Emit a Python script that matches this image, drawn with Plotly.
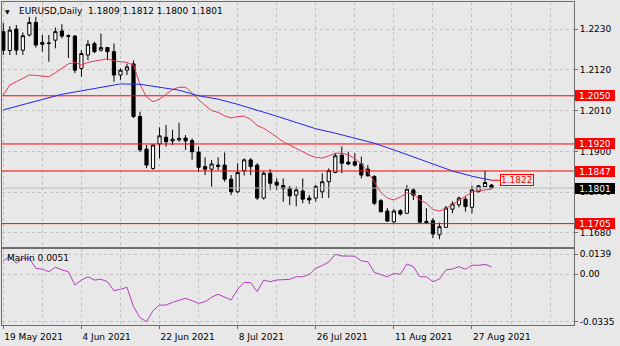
import plotly.graph_objects as go

# --- EURUSD daily bars (19 May 2021 .. 1 Sep 2021) ---
opens = [1.2223, 1.2172, 1.2230, 1.2173, 1.2214, 1.2248, 1.2194, 1.2191, 1.2200, 1.2225,
         1.2212, 1.2211, 1.2124, 1.2160, 1.2191, 1.2173, 1.2180, 1.2169, 1.2106, 1.2119,
         1.2136, 1.1994, 1.1906, 1.1854, 1.1920, 1.1938, 1.1928, 1.1931, 1.1936, 1.1929,
         1.1898, 1.1859, 1.1852, 1.1859, 1.1863, 1.1825, 1.1791, 1.1848, 1.1877, 1.1863,
         1.1774, 1.1841, 1.1817, 1.1808, 1.1801, 1.1782, 1.1793, 1.1774, 1.1774, 1.1791,
         1.1818, 1.1843, 1.1890, 1.1871, 1.1872, 1.1866, 1.1852, 1.1832, 1.1767, 1.1739,
         1.1710, 1.1740, 1.1733, 1.1796, 1.1781, 1.1711, 1.1713, 1.1675, 1.1695, 1.1744,
         1.1756, 1.1771, 1.1749, 1.1791, 1.1805, 1.1809]
highs = [1.2246, 1.2238, 1.2241, 1.2221, 1.2263, 1.2263, 1.2214, 1.2214, 1.2234, 1.2243,
         1.2216, 1.2214, 1.2173, 1.2200, 1.2196, 1.2218, 1.2182, 1.2191, 1.2124, 1.2137,
         1.2145, 1.2007, 1.1917, 1.1919, 1.1965, 1.1971, 1.1958, 1.1977, 1.1944, 1.1935,
         1.1913, 1.1884, 1.1877, 1.1884, 1.1897, 1.1836, 1.1868, 1.1881, 1.1882, 1.1868,
         1.1846, 1.1852, 1.1827, 1.1827, 1.1807, 1.1805, 1.1827, 1.1782, 1.1809, 1.1841,
         1.1854, 1.1895, 1.1913, 1.1899, 1.1895, 1.1886, 1.1863, 1.1836, 1.1771, 1.1747,
         1.1744, 1.1744, 1.1809, 1.1801, 1.1782, 1.1747, 1.1720, 1.1708, 1.1753, 1.1765,
         1.1778, 1.1778, 1.1807, 1.1809, 1.1848, 1.1812]
lows = [1.2160, 1.2160, 1.2160, 1.2160, 1.2210, 1.2180, 1.2169, 1.2142, 1.2178, 1.2205,
        1.2152, 1.2111, 1.2101, 1.2146, 1.2165, 1.2169, 1.2146, 1.2088, 1.2093, 1.2106,
        1.1990, 1.1898, 1.1855, 1.1850, 1.1881, 1.1913, 1.1917, 1.1926, 1.1904, 1.1877,
        1.1845, 1.1836, 1.1805, 1.1850, 1.1818, 1.1782, 1.1787, 1.1835, 1.1836, 1.1769,
        1.1770, 1.1796, 1.1796, 1.1764, 1.1755, 1.1752, 1.1760, 1.1758, 1.1765, 1.1774,
        1.1774, 1.1841, 1.1841, 1.1863, 1.1859, 1.1827, 1.1832, 1.1755, 1.1736, 1.1710,
        1.1706, 1.1727, 1.1731, 1.1769, 1.1708, 1.1704, 1.1666, 1.1663, 1.1695, 1.1733,
        1.1749, 1.1737, 1.1733, 1.1790, 1.1803, 1.1800]
closes = [1.2173, 1.2227, 1.2173, 1.2212, 1.2248, 1.2187, 1.2189, 1.2192, 1.2223, 1.2211,
          1.2210, 1.2119, 1.2164, 1.2189, 1.2169, 1.2180, 1.2169, 1.2106, 1.2119, 1.2128,
          1.1994, 1.1904, 1.1863, 1.1917, 1.1942, 1.1926, 1.1933, 1.1935, 1.1928, 1.1899,
          1.1857, 1.1852, 1.1866, 1.1863, 1.1825, 1.1791, 1.1843, 1.1877, 1.1859, 1.1774,
          1.1841, 1.1814, 1.1809, 1.1799, 1.1780, 1.1796, 1.1771, 1.1769, 1.1805, 1.1818,
          1.1848, 1.1888, 1.1868, 1.1866, 1.1863, 1.1836, 1.1834, 1.1760, 1.1737, 1.1712,
          1.1739, 1.1731, 1.1798, 1.1782, 1.1709, 1.1708, 1.1677, 1.1697, 1.1747, 1.1758,
          1.1774, 1.1751, 1.1796, 1.1807, 1.1816, 1.1801]

# fast moving average (red), one value per bar
red_ma = [1.2052, 1.2079, 1.2088, 1.2097, 1.2106, 1.2105, 1.2103, 1.2101, 1.2112, 1.2124,
          1.2136, 1.2140, 1.2133, 1.2140, 1.2144, 1.2148, 1.2150, 1.2144, 1.2141, 1.2140,
          1.2133, 1.2080, 1.2047, 1.2034, 1.2041, 1.2055, 1.2067, 1.2073, 1.2073, 1.2058,
          1.2039, 1.2024, 1.2010, 1.2005, 1.1996, 1.1990, 1.1994, 1.1995, 1.1986, 1.1970,
          1.1962, 1.1951, 1.1939, 1.1926, 1.1917, 1.1908, 1.1899, 1.1890, 1.1884, 1.1882,
          1.1888, 1.1895, 1.1895, 1.1891, 1.1880, 1.1866, 1.1845, 1.1815, 1.1789, 1.1774,
          1.1769, 1.1777, 1.1788, 1.1785, 1.1769, 1.1760, 1.1743, 1.1739, 1.1746, 1.1757,
          1.1768, 1.1779, 1.1790, 1.1794, 1.1797, 1.1798]

# slow moving average (blue), sampled every third bar
blue_ma_bars = [0, 3, 6, 9, 12, 15, 18, 21, 24, 27, 30, 33, 36, 39, 42, 45, 48, 51, 54,
                57, 60, 63, 66, 69, 72, 75]
blue_ma = [1.2012, 1.2027, 1.2040, 1.2054, 1.2064, 1.2074, 1.2082, 1.2081, 1.2074, 1.2065,
           1.2050, 1.2041, 1.2027, 1.2012, 1.1995, 1.1978, 1.1961, 1.1949, 1.1936,
           1.1922, 1.1904, 1.1885, 1.1866, 1.1847, 1.1833, 1.1822]

# Marlin oscillator
marlin = [0.0094, 0.0122, 0.0076, 0.0111, 0.0111, 0.0041, 0.0034, 0.0017, 0.0048, 0.0029,
          0.0017, -0.0077, -0.0042, -0.0019, -0.0042, -0.0037, -0.0054, -0.0117, -0.0107, -0.0093,
          -0.0229, -0.0307, -0.0335, -0.0258, -0.0218, -0.0218, -0.0199, -0.0182, -0.0170, -0.0187,
          -0.0206, -0.0194, -0.0163, -0.0142, -0.0163, -0.0182, -0.0107, -0.0058, -0.0060, -0.0124,
          -0.0042, -0.0054, -0.0042, -0.0037, -0.0037, -0.0019, -0.0019, -0.0002, 0.0041, 0.0060,
          0.0085, 0.0139, 0.0127, 0.0127, 0.0125, 0.0092, 0.0087, 0.0012, -0.0005, -0.0019,
          0.0005, -0.0002, 0.0071, 0.0052, -0.0019, -0.0019, -0.0054, -0.0035, 0.0029, 0.0036,
          0.0052, 0.0034, 0.0062, 0.0062, 0.0068, 0.0051]

# horizontal support / resistance levels
levels = [1.2050, 1.1920, 1.1847, 1.1705]

# axis labels
date_labels = ["19 May 2021", "4 Jun 2021", "22 Jun 2021", "8 Jul 2021",
               "26 Jul 2021", "11 Aug 2021", "27 Aug 2021"]
label_step = 12
grid_step = 6
price_ticks = [1.2230, 1.2120, 1.2010, 1.1900, 1.1790, 1.1680]
marlin_ticks = [0.0139, 0.0, -0.0335]
marlin_tick_text = ["0.0139", "0.00", "-0.0335"]
symbol = "EURUSD"
timeframe = "Daily"

FONT = "DejaVu Sans"
BG = "#e8e8e8"
FRAME = "#6e6e6e"
GRID = "#c2c2c2"

bars = list(range(len(closes)))
x_max = 87.67
label_pos = [i * label_step for i in range(len(date_labels))]
grid_pos = [g for g in range(grid_step, int(x_max) + 1, grid_step) if g not in label_pos]

fig = go.Figure()

# level lines and the bid line, drawn as full-width traces beneath the candles
x_span = [-0.2, x_max]
for lv in levels:
    fig.add_trace(go.Scatter(x=x_span, y=[lv, lv], mode="lines",
                             line=dict(color="#ff0000", width=1), hoverinfo="skip",
                             xaxis="x", yaxis="y", cliponaxis=True))
fig.add_trace(go.Scatter(x=x_span, y=[closes[-1], closes[-1]], mode="lines",
                         line=dict(color="#b8b8b8", width=1), hoverinfo="skip",
                         xaxis="x", yaxis="y"))

fig.add_trace(go.Candlestick(
    x=bars, open=opens, high=highs, low=lows, close=closes,
    increasing=dict(line=dict(color="black", width=1), fillcolor="white"),
    decreasing=dict(line=dict(color="black", width=1), fillcolor="black"),
    whiskerwidth=0, hoverinfo="skip", xaxis="x", yaxis="y"))

fig.add_trace(go.Scatter(x=bars, y=red_ma, mode="lines",
                         line=dict(color="#e43c58", width=1), hoverinfo="skip",
                         xaxis="x", yaxis="y"))
fig.add_trace(go.Scatter(x=blue_ma_bars, y=blue_ma, mode="lines",
                         line=dict(color="#2424ee", width=1), hoverinfo="skip",
                         xaxis="x", yaxis="y"))
fig.add_trace(go.Scatter(x=bars, y=marlin, mode="lines",
                         line=dict(color="#b43cbe", width=1), hoverinfo="skip",
                         xaxis="x2", yaxis="y2"))

annotations = []
# price tags on the right scale
for lv in levels:
    annotations.append(dict(
        xref="paper", x=1, xanchor="left", xshift=1, yref="y", y=lv, yanchor="middle",
        text=f"{lv:.4f}", showarrow=False, bgcolor="#ff0000", borderwidth=0, borderpad=0,
        width=40, height=11, align="center", valign="middle",
        font=dict(family=FONT, size=9, color="white")))
annotations.append(dict(
    xref="paper", x=1, xanchor="left", xshift=1, yref="y", y=closes[-1], yanchor="middle",
    text=f"{closes[-1]:.4f}", showarrow=False, bgcolor="#000000", borderwidth=0,
    borderpad=0, width=40, height=11, align="center", valign="middle",
    font=dict(family=FONT, size=9, color="white")))
# slow MA value tag
annotations.append(dict(
    xref="x", x=bars[-1], yref="y", y=blue_ma[-1], text=f"{blue_ma[-1]:.4f}",
    showarrow=True, arrowhead=0, arrowwidth=1, arrowcolor="#ff0000", ax=8.5, ay=0,
    xanchor="left", yanchor="middle", bgcolor=BG, bordercolor="#ff0000", borderwidth=1,
    borderpad=0, font=dict(family=FONT, size=9, color="#ff0000")))
# header
annotations.append(dict(
    xref="paper", x=0, xshift=1, xanchor="left", yref="paper", y=1, yshift=-4,
    yanchor="top", text="\u25bc", showarrow=False,
    font=dict(family=FONT, size=6, color="black")))
annotations.append(dict(
    xref="paper", x=0, xshift=15, xanchor="left", yref="paper", y=1, yshift=-2,
    yanchor="top", showarrow=False,
    text=f"{symbol},{timeframe}\u00a0\u00a0{opens[-1]:.4f} {highs[-1]:.4f} "
         f"{lows[-1]:.4f} {closes[-1]:.4f}",
    font=dict(family=FONT, size=9, color="black")))
annotations.append(dict(
    xref="paper", x=0, xshift=3, xanchor="left", yref="y2 domain", y=1, yshift=-2,
    yanchor="top", showarrow=False, text=f"Marlin {marlin[-1]:.4f}",
    font=dict(family=FONT, size=9, color="black")))

common_x = dict(range=[-0.2, x_max], showline=True, linecolor=FRAME, linewidth=1,
                mirror=True, showgrid=True, gridcolor=GRID, griddash="dot", gridwidth=1,
                zeroline=False, tickmode="array", tickvals=label_pos,
                minor=dict(tickmode="array", tickvals=grid_pos, showgrid=True,
                           gridcolor=GRID, griddash="dot", gridwidth=1, ticks=""))

fig.update_layout(
    width=620, height=346,
    margin=dict(l=2, r=46, t=2, b=21),
    paper_bgcolor=BG, plot_bgcolor=BG,
    showlegend=False,
    font=dict(family=FONT, size=9, color="black"),
    xaxis=dict(**common_x, domain=[0, 1], anchor="y", showticklabels=False, ticks="",
               rangeslider=dict(visible=False)),
    xaxis2=dict(**common_x, domain=[0, 1], anchor="y2", matches="x",
                ticktext=date_labels, ticks="outside", ticklen=3, tickcolor=FRAME,
                ticklabelposition="outside right", ticklabelstandoff=3,
                tickfont=dict(family=FONT, size=9, color="black")),
    yaxis=dict(domain=[0.2415, 1], range=[1.1642, 1.2303], side="right", anchor="x",
               showline=True, linecolor=FRAME, linewidth=1, mirror=True,
               tickmode="array", tickvals=price_ticks,
               ticktext=[f"{p:.4f}" for p in price_ticks],
               ticks="outside", ticklen=3, tickcolor=FRAME,
               showgrid=True, gridcolor=GRID, griddash="dot", zeroline=False,
               tickfont=dict(family=FONT, size=9, color="black")),
    yaxis2=dict(domain=[0, 0.2353], range=[-0.03582, 0.01763], side="right", anchor="x2",
                showline=True, linecolor=FRAME, linewidth=1, mirror=True,
                tickmode="array", tickvals=marlin_ticks, ticktext=marlin_tick_text,
                ticks="outside", ticklen=3, tickcolor=FRAME,
                showgrid=True, gridcolor=GRID, griddash="dot", zeroline=False,
                tickfont=dict(family=FONT, size=9, color="black")),
    annotations=annotations,
)

fig.write_html("out.html", config={"displayModeBar": False})
